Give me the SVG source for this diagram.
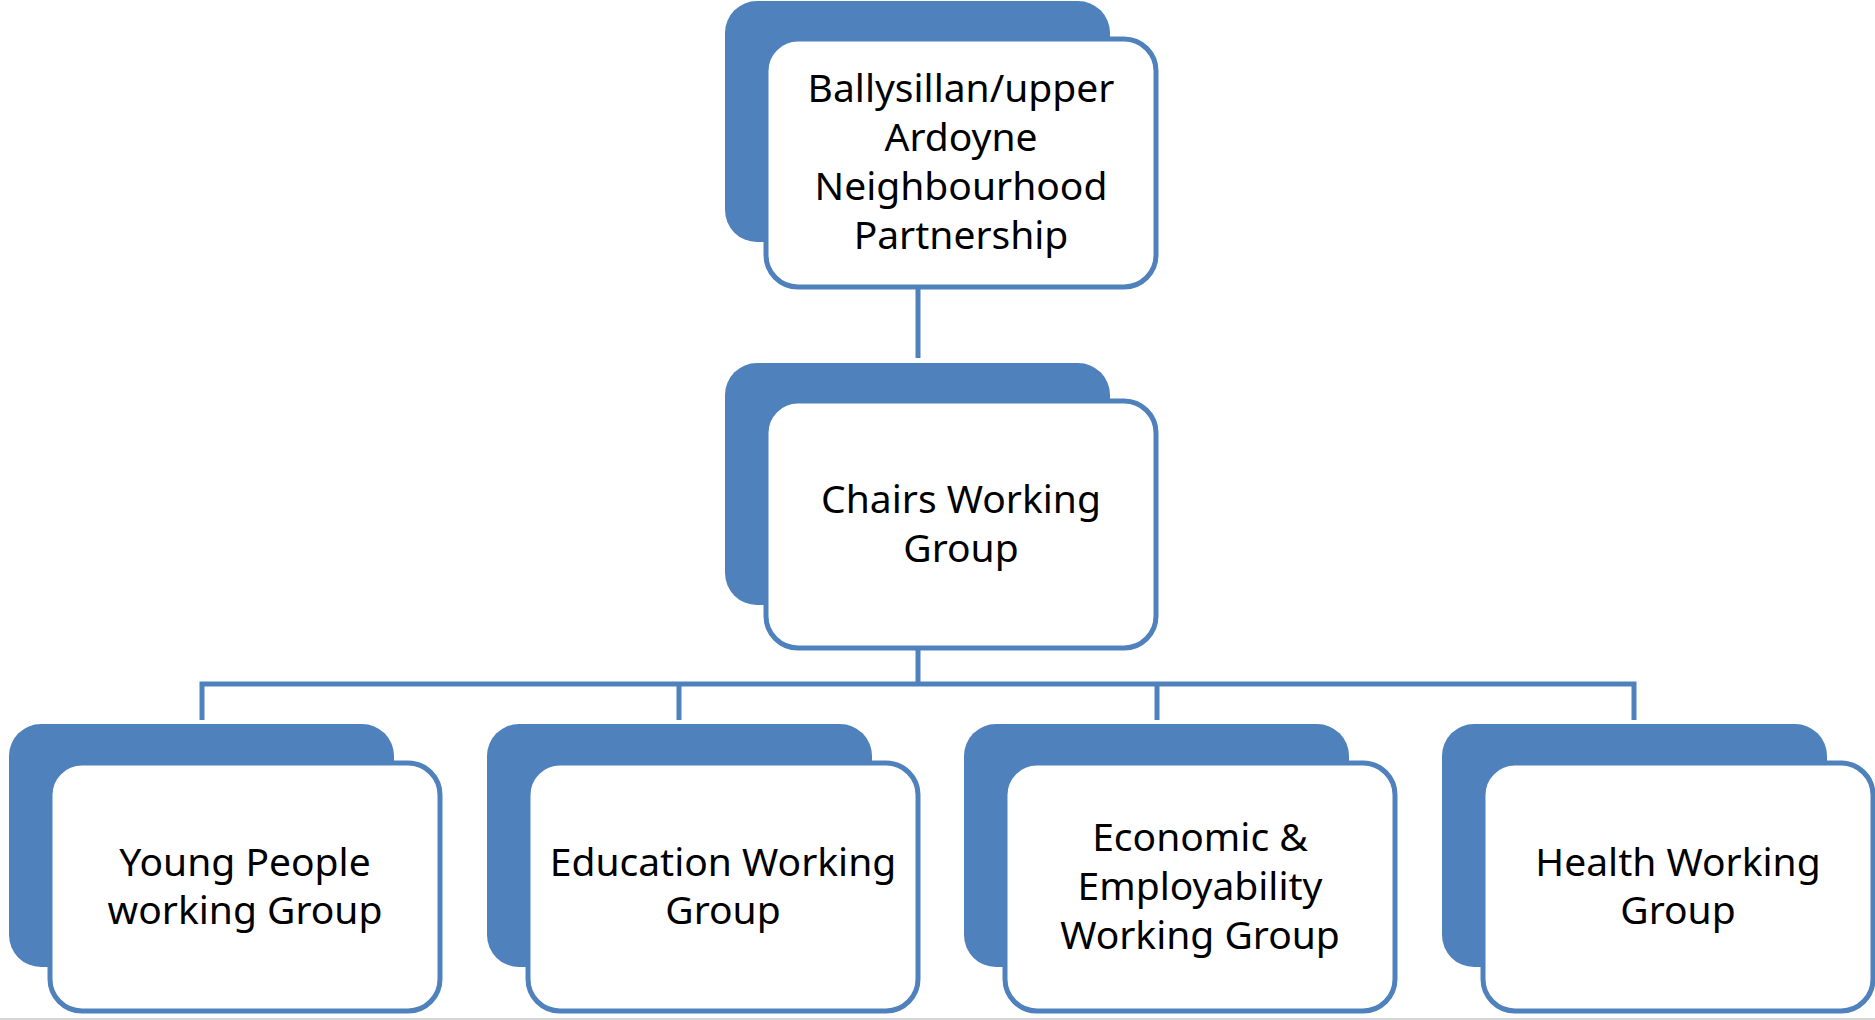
<svg xmlns="http://www.w3.org/2000/svg" width="1875" height="1020" viewBox="0 0 1875 1020">
<style>
.back{fill:#4F81BD;}
.front{fill:#FFFFFF;stroke:#4F81BD;stroke-width:5;}
.conn{stroke:#4F81BD;stroke-width:5;fill:none;}
.lbl{font-family:"Noto Sans","Open Sans","DejaVu Sans",sans-serif;font-size:39px;fill:#000;text-anchor:middle;}
</style>
<rect width="1875" height="1020" fill="#FFFFFF"/>
<line x1="0" y1="1019" x2="1875" y2="1019" stroke="#C8C8C8" stroke-width="1.5"/>
<g id="connectors">
<line class="conn" x1="918" y1="287" x2="918" y2="358"/>
<line class="conn" x1="918" y1="648" x2="918" y2="684"/>
<polyline class="conn" points="202,720 202,684 1634,684 1634,720"/>
<line class="conn" x1="679" y1="684" x2="679" y2="720"/>
<line class="conn" x1="1157" y1="684" x2="1157" y2="720"/>
</g>
<g id="node-partnership">
<rect class="back" x="725" y="1" width="385" height="241" rx="32"/>
<rect class="front" x="766" y="39" width="390" height="248" rx="32"/>
<text class="lbl"><tspan x="961" y="102">Ballysillan/upper</tspan><tspan x="961" y="151">Ardoyne</tspan><tspan x="961" y="200">Neighbourhood</tspan><tspan x="961" y="249">Partnership</tspan></text>
</g>
<g id="node-chairs">
<rect class="back" x="725" y="363" width="385" height="242" rx="32"/>
<rect class="front" x="766" y="401" width="390" height="247" rx="32"/>
<text class="lbl"><tspan x="961" y="513">Chairs Working</tspan><tspan x="961" y="562">Group</tspan></text>
</g>
<g id="node-young">
<rect class="back" x="9" y="724" width="385" height="243" rx="32"/>
<rect class="front" x="50" y="763" width="390" height="248" rx="32"/>
<text class="lbl"><tspan x="245" y="876">Young People</tspan><tspan x="245" y="924">working Group</tspan></text>
</g>
<g id="node-education">
<rect class="back" x="487" y="724" width="385" height="243" rx="32"/>
<rect class="front" x="528" y="763" width="390" height="248" rx="32"/>
<text class="lbl"><tspan x="723" y="876">Education Working</tspan><tspan x="723" y="924">Group</tspan></text>
</g>
<g id="node-economic">
<rect class="back" x="964" y="724" width="385" height="243" rx="32"/>
<rect class="front" x="1005" y="763" width="390" height="248" rx="32"/>
<text class="lbl"><tspan x="1200" y="851">Economic &amp;</tspan><tspan x="1200" y="900">Employability</tspan><tspan x="1200" y="949">Working Group</tspan></text>
</g>
<g id="node-health">
<rect class="back" x="1442" y="724" width="385" height="243" rx="32"/>
<rect class="front" x="1483" y="763" width="390" height="248" rx="32"/>
<text class="lbl"><tspan x="1678" y="876">Health Working</tspan><tspan x="1678" y="924">Group</tspan></text>
</g>
</svg>
